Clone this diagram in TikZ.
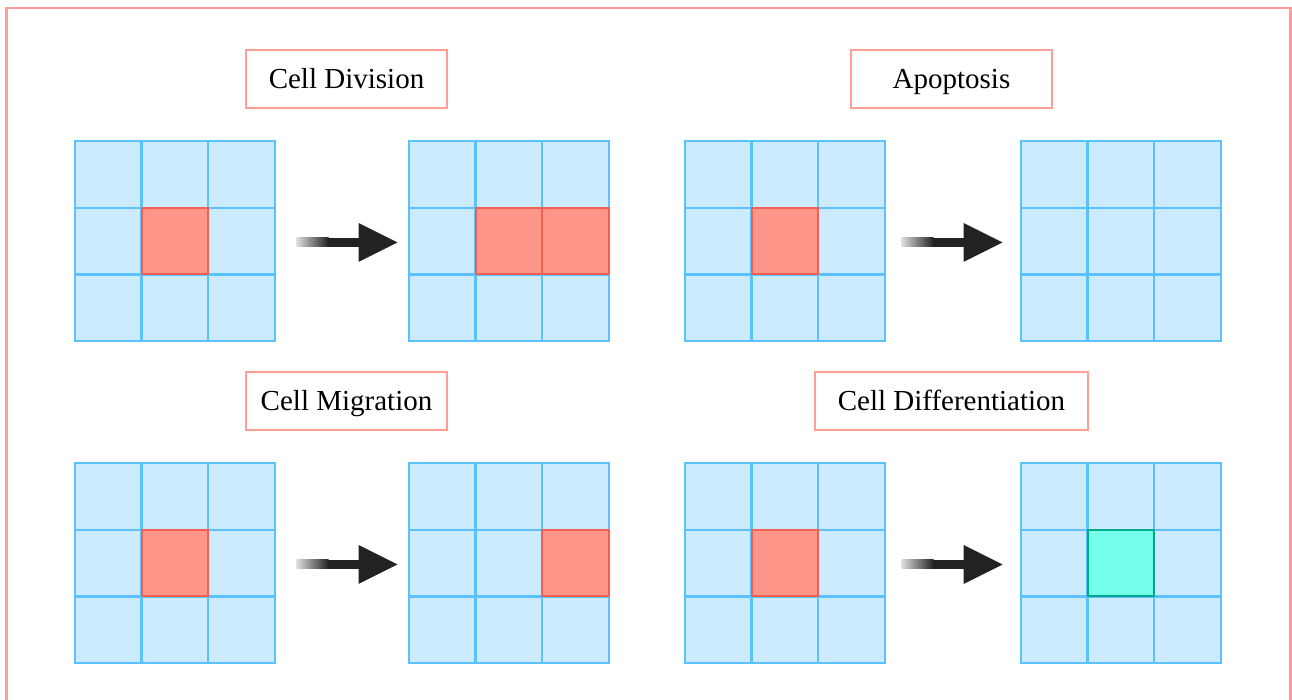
\documentclass[tikz,border=0pt]{standalone}
\usepackage{fontspec}
\setmainfont{Liberation Serif}

\definecolor{framered}{HTML}{FF9D96}
\definecolor{cellfill}{HTML}{CCEBFF}
\definecolor{cellline}{HTML}{5CC1FF}
\definecolor{redfill}{HTML}{FF968A}
\definecolor{redline}{HTML}{F4604F}
\definecolor{tealfill}{HTML}{73FFE9}
\definecolor{tealline}{HTML}{00A98A}
\definecolor{arrowdark}{HTML}{222222}

\tikzset{
  tissue/.style={minimum size=200pt, inner sep=0pt},
  cell/.style={draw=cellline, fill=cellfill, line width=2.2pt},
  hilite/.style={draw=#1line, fill=#1fill, line width=2.2pt,
                 minimum size=66.67pt, inner sep=0pt},
  caption/.style={draw=framered, line width=2.4pt, fill=white,
                  minimum width=201pt, minimum height=58pt, inner xsep=14pt,
                  text height=19.2pt, text depth=0pt,
                  font=\fontsize{29}{34}\selectfont},
}

\begin{document}
\begin{tikzpicture}[x=1pt,y=1pt]
  % #1 title, #2 tissue before: arrow sits under the title, level with the tissue
  \newcommand{\turnsinto}[2]{%
    \coordinate (#1-arrow) at (#1 |- #2);
    \shade[left color=white!85!arrowdark, right color=arrowdark]
      ([shift={(-50pt,-6pt)}]#1-arrow) rectangle ([shift={(-18pt,3pt)}]#1-arrow);
    \fill[arrowdark]
      ([shift={(-18.5pt,-6pt)}]#1-arrow) rectangle ([shift={(12.5pt,3pt)}]#1-arrow);
    \fill[arrowdark] ([shift={(12pt,18pt)}]#1-arrow) -- ([shift={(51pt,-1.5pt)}]#1-arrow)
      -- ([shift={(12pt,-21pt)}]#1-arrow) -- cycle;}

  \useasboundingbox (0,0) rectangle (1292,700);
  \draw[framered, line width=2.6pt] (6.5,-20) rectangle (1290.5,692);

  % before/after tissues
  \foreach \name/\x/\y in {div-a/175/459, div-b/509/459, apo-a/785/459, apo-b/1121/459,
                           mig-a/175/137, mig-b/509/137, dif-a/785/137, dif-b/1121/137} {
    \node[tissue] (\name) at (\x,\y) {};
    \begin{scope}[shift={(\name.south west)}]
      \foreach \i in {0,1,2} \foreach \j in {0,1,2}
        \draw[cell] (\i*200/3,\j*200/3) rectangle ++(200/3,200/3);
    \end{scope}
  }

  % cells that change
  \node[hilite=red] (div-a-mid) at (div-a) {};
  \node[hilite=red] (div-b-mid) at (div-b) {};
  \node[hilite=red] (div-b-right) at ([xshift=66.67pt]div-b) {};
  \node[hilite=red] (apo-a-mid) at (apo-a) {};
  \node[hilite=red] (mig-a-mid) at (mig-a) {};
  \node[hilite=red] (mig-b-right) at ([xshift=66.67pt]mig-b) {};
  \node[hilite=red] (dif-a-mid) at (dif-a) {};
  \node[hilite=teal] (dif-b-mid) at (dif-b) {};

  \node[caption] (div-title) at (346.5,621) {Cell Division};
  \node[caption] (apo-title) at (951.5,621) {Apoptosis};
  \node[caption] (mig-title) at (346.5,299) {Cell Migration};
  \node[caption, minimum width=273pt] (dif-title) at (951.5,299) {Cell Differentiation};

  \turnsinto{div-title}{div-a}
  \turnsinto{apo-title}{apo-a}
  \turnsinto{mig-title}{mig-a}
  \turnsinto{dif-title}{dif-a}
\end{tikzpicture}
\end{document}
